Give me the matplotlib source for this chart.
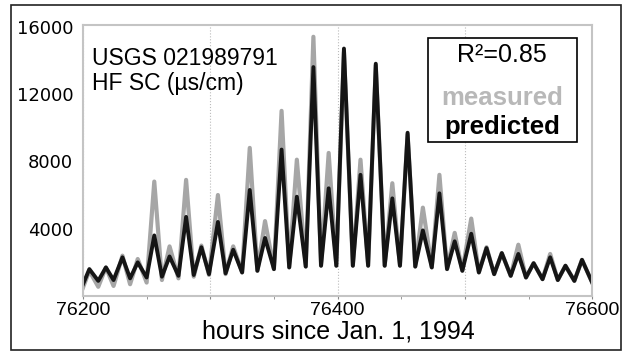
import numpy as np
import matplotlib.pyplot as plt
from matplotlib import patches
from matplotlib.ticker import MultipleLocator

plt.rcParams['font.family'] = ['Liberation Sans', 'DejaVu Sans']

# peaks (hours since Jan 1 1994, uS/cm)
peak_hours = [76205, 76218, 76231, 76243, 76256, 76268, 76281, 76293,
              76306, 76318, 76331, 76343, 76356, 76368, 76381, 76393,
              76405, 76418, 76430, 76443, 76455, 76467, 76480, 76492,
              76505, 76517, 76529, 76542, 76554, 76567, 76579, 76592]
meas_peak = [1500, 1700, 2400, 2200, 6800, 2950, 6900, 3000,
             6000, 2950, 8800, 4450, 11000, 8100, 15400, 8500,
             14500, 8100, 13700, 6700, 9600, 5250, 7200, 3750,
             4600, 2900, 2550, 3050, 1950, 2500, 1800, 2150]
pred_peak = [1600, 1700, 2300, 2000, 3600, 2350, 4700, 2900,
             4400, 2750, 6300, 3450, 8700, 5900, 13600, 6400,
             14700, 7200, 13800, 5800, 9700, 3900, 6100, 3250,
             3700, 2850, 2550, 2500, 1950, 2300, 1800, 2150]

# troughs between the peaks (plus both ends)
trough_hours = [76200, 76212, 76224, 76237, 76250, 76262, 76275, 76287,
                76299, 76312, 76325, 76337, 76350, 76362, 76375, 76387,
                76399, 76412, 76424, 76437, 76449, 76461, 76474, 76486,
                76498, 76511, 76523, 76536, 76548, 76561, 76573, 76586, 76600]
meas_trough = [500, 550, 600, 700, 800, 950, 1050, 1150,
               1250, 1300, 1400, 1500, 1600, 1700, 1750, 1800,
               1800, 1800, 1800, 1800, 1800, 1750, 1700, 1600,
               1500, 1400, 1300, 1200, 1100, 1000, 950, 900, 800]
pred_trough = [700, 900, 950, 1050, 1100, 1150, 1200, 1250,
               1300, 1350, 1400, 1500, 1600, 1700, 1750, 1800,
               1800, 1800, 1800, 1800, 1800, 1750, 1700, 1600,
               1500, 1400, 1300, 1200, 1100, 1000, 950, 900, 800]


def zigzag(th, tv, ph, pv):
    xs, ys = [], []
    for i in range(len(ph)):
        xs += [th[i], ph[i]]
        ys += [tv[i], pv[i]]
    xs.append(th[-1])
    ys.append(tv[-1])
    return xs, ys


fig = plt.figure(figsize=(6.24, 3.52), dpi=100)
ax = fig.add_axes([0.133, 0.159, 0.816, 0.77])

mx, my = zigzag(trough_hours, meas_trough, peak_hours, meas_peak)
px, py = zigzag(trough_hours, pred_trough, peak_hours, pred_peak)
ax.plot(mx, my, color='#a6a6a6', lw=3.0, solid_joinstyle='round')
ax.plot(px, py, color='#151515', lw=2.8, solid_joinstyle='round')

ax.set_xlim(76200, 76600)
ax.set_ylim(0, 16100)
ax.set_xticks([76200, 76300, 76400, 76500, 76600])
ax.set_xticklabels(['76200', '', '76400', '', '76600'])
ax.xaxis.set_minor_locator(MultipleLocator(50))
ax.set_yticks([4000, 8000, 12000, 16000])
ax.set_yticklabels(['4000', '8000', '12000', '16000'], family='DejaVu Sans', fontsize=13)
ax.tick_params(axis='y', length=0, pad=7)
ax.tick_params(axis='x', which='both', length=2, color='#888888', labelsize=14, pad=2)
ax.grid(axis='x', which='major', linestyle=':', color='#bbbbbb', lw=0.8)
for s in ax.spines.values():
    s.set_color('#c4c4c4')
    s.set_linewidth(1.5)

fig.text(0.542, 0.058, 'hours since Jan. 1, 1994', fontsize=18, ha='center', va='center')

ax.text(0.018, 0.92, 'USGS 021989791\nHF SC (\u00b5s/cm)', transform=ax.transAxes,
        fontsize=16.5, va='top', ha='left', linespacing=1.15)

# legend box drawn by hand
fig.add_artist(patches.Rectangle((0.686, 0.597), 0.239, 0.295, transform=fig.transFigure,
                                 fill=True, facecolor='white', edgecolor='black', lw=1.2))
fig.text(0.805, 0.844, 'R\u00b2=0.85', ha='center', va='center', fontsize=18)
fig.text(0.805, 0.722, 'measured', ha='center', va='center', fontsize=18.5,
         fontweight='bold', color='#b8b8b8')
fig.text(0.805, 0.638, 'predicted', ha='center', va='center', fontsize=18.5,
         fontweight='bold', color='black')

# frame round the whole picture
fig.add_artist(patches.Rectangle((0.0176, 0.006), 0.9776, 0.979, transform=fig.transFigure,
                                 fill=False, edgecolor='#222222', lw=1.2))

fig.savefig('out.png', dpi=100)
